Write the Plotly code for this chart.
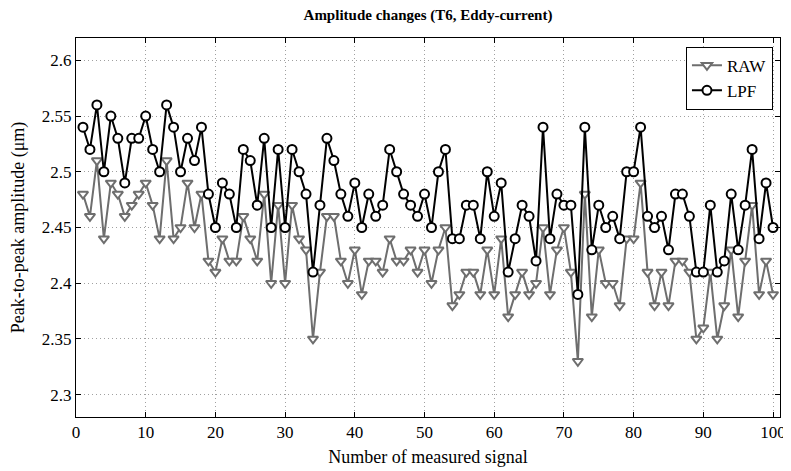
import plotly.graph_objects as go

signal_index = list(range(1, 101))

raw_values = [
    2.48, 2.46, 2.51, 2.44, 2.49, 2.48, 2.46, 2.47, 2.48, 2.49,
    2.47, 2.44, 2.51, 2.44, 2.45, 2.49, 2.45, 2.48, 2.42, 2.41,
    2.44, 2.42, 2.42, 2.46, 2.44, 2.42, 2.48, 2.40, 2.47, 2.40,
    2.47, 2.44, 2.43, 2.35, 2.41, 2.46, 2.46, 2.42, 2.40, 2.43,
    2.39, 2.42, 2.42, 2.41, 2.44, 2.42, 2.42, 2.43, 2.41, 2.43,
    2.40, 2.43, 2.45, 2.38, 2.39, 2.41, 2.41, 2.39, 2.43, 2.39,
    2.44, 2.37, 2.39, 2.41, 2.39, 2.40, 2.45, 2.39, 2.43, 2.45,
    2.41, 2.33, 2.48, 2.37, 2.43, 2.40, 2.40, 2.38, 2.44, 2.44,
    2.49, 2.41, 2.38, 2.41, 2.38, 2.42, 2.42, 2.41, 2.35, 2.36,
    2.41, 2.35, 2.38, 2.43, 2.37, 2.42, 2.47, 2.39, 2.42, 2.39,
]

lpf_values = [
    2.54, 2.52, 2.56, 2.50, 2.55, 2.53, 2.49, 2.53, 2.53, 2.55,
    2.52, 2.50, 2.56, 2.54, 2.50, 2.53, 2.51, 2.54, 2.48, 2.45,
    2.49, 2.48, 2.45, 2.52, 2.51, 2.47, 2.53, 2.45, 2.52, 2.45,
    2.52, 2.50, 2.48, 2.41, 2.47, 2.53, 2.51, 2.48, 2.46, 2.49,
    2.45, 2.48, 2.46, 2.47, 2.52, 2.50, 2.48, 2.47, 2.46, 2.48,
    2.45, 2.50, 2.52, 2.44, 2.44, 2.47, 2.47, 2.44, 2.50, 2.46,
    2.49, 2.41, 2.44, 2.47, 2.46, 2.42, 2.54, 2.44, 2.48, 2.47,
    2.47, 2.39, 2.54, 2.43, 2.47, 2.45, 2.46, 2.44, 2.50, 2.50,
    2.54, 2.46, 2.45, 2.46, 2.43, 2.48, 2.48, 2.46, 2.41, 2.41,
    2.47, 2.41, 2.42, 2.48, 2.43, 2.47, 2.52, 2.44, 2.49, 2.45,
]

x_tick_vals = [0, 10, 20, 30, 40, 50, 60, 70, 80, 90, 100]
y_tick_vals = [2.3, 2.35, 2.4, 2.45, 2.5, 2.55, 2.6]
y_tick_text = ["2.3", "2.35", "2.4", "2.45", "2.5", "2.55", "2.6"]

FONT = "Liberation Serif, Times New Roman, serif"
RAW_COLOR = "#6e6e6e"

fig = go.Figure()
fig.add_trace(go.Scatter(
    x=signal_index, y=raw_values, name="RAW", mode="lines+markers",
    line=dict(color=RAW_COLOR, width=2),
    marker=dict(symbol="triangle-down", size=9, color="white",
                line=dict(color=RAW_COLOR, width=2)),
))
fig.add_trace(go.Scatter(
    x=signal_index, y=lpf_values, name="LPF", mode="lines+markers",
    line=dict(color="black", width=2),
    marker=dict(symbol="circle", size=9, color="white",
                line=dict(color="black", width=2)),
))

axis_common = dict(
    showline=True, linecolor="black", linewidth=1, mirror="ticks",
    ticks="inside", ticklen=5, tickcolor="black", automargin=False,
    ticklabeloverflow="allow",
    showgrid=True, gridcolor="#a0a0a0", griddash="1px,3px", gridwidth=1,
    zeroline=False, tickfont=dict(family=FONT, size=17, color="black"),
)

fig.update_xaxes(range=[0, 101], tickvals=x_tick_vals,
                 title=dict(text="Number of measured signal", standoff=8,
                            font=dict(family=FONT, size=18, color="black")),
                 **axis_common)
fig.update_yaxes(range=[2.28, 2.62], tickvals=y_tick_vals, ticktext=y_tick_text,
                 title=dict(text="Peak-to-peak amplitude (\u03bcm)", standoff=14,
                            font=dict(family=FONT, size=18, color="black")),
                 **axis_common)

# The page body adds an 8px offset, so the figure is sized to fill the rest of the window.
fig.update_layout(
    width=783, height=463,
    margin=dict(l=68, r=11, t=30, b=54),
    paper_bgcolor="white", plot_bgcolor="white",
    title=dict(text="<b>Amplitude changes (T6, Eddy-current)</b>",
               x=(68 + 772) / 2 / 783, xanchor="center", y=0.985, yanchor="middle",
               font=dict(family=FONT, size=15, color="black")),
    legend=dict(x=0.99, y=0.977, xanchor="right", yanchor="top",
                bgcolor="white", bordercolor="black", borderwidth=1,
                font=dict(family=FONT, size=17, color="black"),
                itemwidth=30, tracegroupgap=0),
    showlegend=True,
)

fig.write_html("out.html")
